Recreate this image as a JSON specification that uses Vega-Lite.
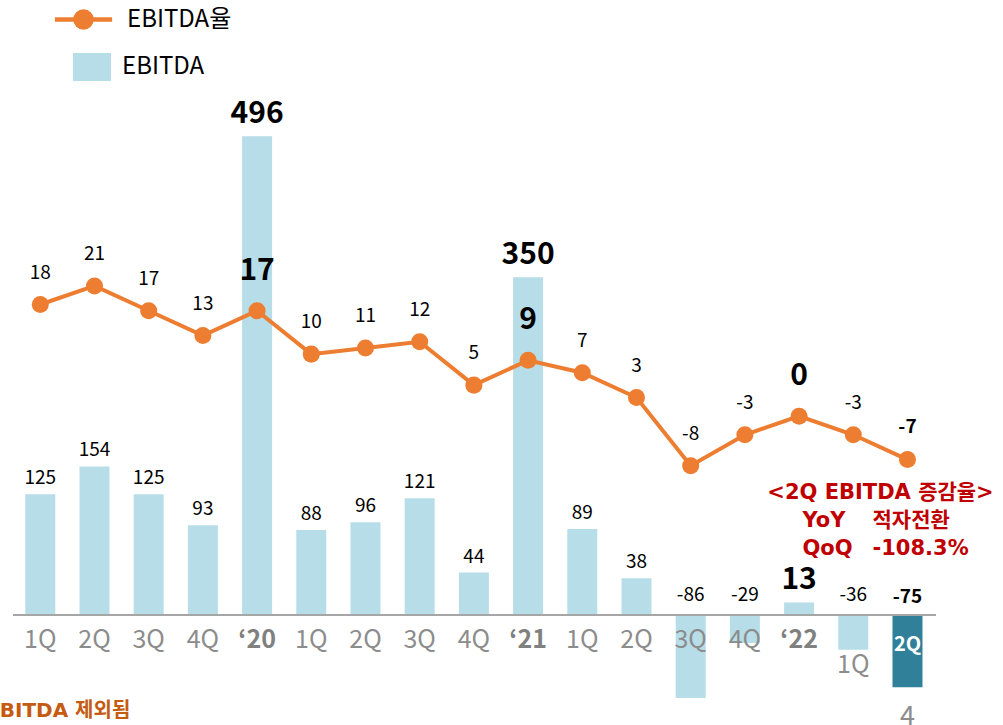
{
  "$schema": "https://vega.github.io/schema/vega-lite/v6.json",
  "width": 1003,
  "height": 725,
  "autosize": {"type": "none"},
  "padding": 0,
  "background": "white",
  "config": {"view": {"stroke": null}, "font": "Noto Sans CJK KR", "text": {"font": "Noto Sans CJK KR"}},
  "data": {"values": [
    {"key": "20-1Q", "label": "1Q", "kind": "quarter", "ebitda": 125, "rate": 18},
    {"key": "20-2Q", "label": "2Q", "kind": "quarter", "ebitda": 154, "rate": 21},
    {"key": "20-3Q", "label": "3Q", "kind": "quarter", "ebitda": 125, "rate": 17},
    {"key": "20-4Q", "label": "4Q", "kind": "quarter", "ebitda": 93, "rate": 13},
    {"key": "20", "label": "‘20", "kind": "year", "ebitda": 496, "rate": 17},
    {"key": "21-1Q", "label": "1Q", "kind": "quarter", "ebitda": 88, "rate": 10},
    {"key": "21-2Q", "label": "2Q", "kind": "quarter", "ebitda": 96, "rate": 11},
    {"key": "21-3Q", "label": "3Q", "kind": "quarter", "ebitda": 121, "rate": 12},
    {"key": "21-4Q", "label": "4Q", "kind": "quarter", "ebitda": 44, "rate": 5},
    {"key": "21", "label": "‘21", "kind": "year", "ebitda": 350, "rate": 9},
    {"key": "22-1Q", "label": "1Q", "kind": "quarter", "ebitda": 89, "rate": 7},
    {"key": "22-2Q", "label": "2Q", "kind": "quarter", "ebitda": 38, "rate": 3},
    {"key": "22-3Q", "label": "3Q", "kind": "quarter", "ebitda": -86, "rate": -8},
    {"key": "22-4Q", "label": "4Q", "kind": "quarter", "ebitda": -29, "rate": -3},
    {"key": "22", "label": "‘22", "kind": "year", "ebitda": 13, "rate": 0},
    {"key": "23-1Q", "label": "1Q", "kind": "quarter", "ebitda": -36, "rate": -3},
    {"key": "23-2Q", "label": "2Q", "kind": "quarter", "ebitda": -75, "rate": -7}
  ]},
  "encoding": {
    "x": {"field": "key", "type": "nominal", "sort": null, "axis": null,
          "scale": {"paddingInner": 0.4465, "paddingOuter": 0.976, "align": 0.239, "round": false}}
  },
  "resolve": {"scale": {"y": "independent"}},
  "layer": [
    {
      "layer": [
        {
          "transform": [{"filter": "datum.key != '23-2Q'"}],
          "mark": {"type": "bar"},
          "encoding": {
            "y": {"field": "ebitda", "type": "quantitative", "axis": null, "scale": {"domain": [-114.0, 637.3], "nice": false, "zero": false}},
            "y2": {"datum": 0},
            "fill": {"datum": "EBITDA", "scale": {"range": ["#b7dee8"]},
                     "legend": {"orient": "none", "legendX": 73, "legendY": 48, "title": null, "padding": 0,
                                "symbolType": "M-1,-0.737H1V0.737H-1Z", "symbolSize": 1444, "symbolStrokeWidth": 0,
                                "labelFont": "Noto Sans CJK KR", "labelFontSize": 24, "labelColor": "#000000", "labelOffset": 11}}
          }
        },
        {
          "transform": [{"filter": "datum.key == '23-2Q'"}],
          "mark": {"type": "bar", "color": "#31809a"},
          "encoding": {
            "y": {"field": "ebitda", "type": "quantitative", "axis": null, "scale": {"domain": [-114.0, 637.3], "nice": false, "zero": false}},
            "y2": {"datum": 0}
          }
        },
        {
          "mark": {"type": "rule", "color": "#a6a6a6", "strokeWidth": 2, "xOffset": -27, "x2Offset": 28},
          "encoding": {
            "x": {"datum": "20-1Q"},
            "x2": {"datum": "23-2Q"},
            "y": {"datum": 0, "type": "quantitative"}
          }
        },
        {
          "transform": [{"filter": "datum.kind == 'quarter' && datum.ebitda > 0"}],
          "mark": {"type": "text", "fontSize": 19, "color": "#000000", "baseline": "middle", "dy": -16},
          "encoding": {"y": {"field": "ebitda", "type": "quantitative"}, "text": {"field": "ebitda"}}
        },
        {
          "transform": [{"filter": "datum.kind == 'quarter' && datum.ebitda < 0 && datum.key != '23-2Q'"}],
          "mark": {"type": "text", "fontSize": 19, "color": "#000000", "baseline": "middle", "dy": -20},
          "encoding": {"y": {"datum": 0, "type": "quantitative"}, "text": {"field": "ebitda"}}
        },
        {
          "transform": [{"filter": "datum.kind == 'year'"}],
          "mark": {"type": "text", "fontSize": 30, "fontWeight": "bold", "color": "#000000", "baseline": "middle", "dy": -22},
          "encoding": {"y": {"field": "ebitda", "type": "quantitative"}, "text": {"field": "ebitda"}}
        },
        {
          "transform": [{"filter": "datum.key == '23-2Q'"}],
          "mark": {"type": "text", "fontSize": 19, "fontWeight": "bold", "color": "#000000", "baseline": "middle", "dy": -18},
          "encoding": {"y": {"datum": 0, "type": "quantitative"}, "text": {"field": "ebitda"}}
        },
        {
          "transform": [{"filter": "datum.kind == 'quarter' && datum.key != '23-1Q' && datum.key != '23-2Q'"}],
          "mark": {"type": "text", "fontSize": 25, "color": "#8c8c8c", "baseline": "middle"},
          "encoding": {"y": {"datum": -25.9, "type": "quantitative"}, "text": {"field": "label"}}
        },
        {
          "transform": [{"filter": "datum.kind == 'year'"}],
          "mark": {"type": "text", "fontSize": 25, "fontWeight": "bold", "color": "#808080", "baseline": "middle"},
          "encoding": {"y": {"datum": -25.9, "type": "quantitative"}, "text": {"field": "label"}}
        },
        {
          "transform": [{"filter": "datum.key == '23-1Q'"}],
          "mark": {"type": "text", "fontSize": 25, "color": "#8c8c8c", "baseline": "middle"},
          "encoding": {"y": {"datum": -51.8, "type": "quantitative"}, "text": {"field": "label"}}
        },
        {
          "transform": [{"filter": "datum.key == '23-2Q'"}],
          "mark": {"type": "text", "fontSize": 20, "fontWeight": "bold", "color": "#ffffff", "baseline": "middle"},
          "encoding": {"y": {"datum": -31.1, "type": "quantitative"}, "text": {"field": "label"}}
        },
        {
          "transform": [{"filter": "datum.key == '23-2Q'"}],
          "mark": {"type": "text", "font": "DejaVu Sans, Noto Sans CJK KR", "fontSize": 21, "fontWeight": "bold", "color": "#c00000", "baseline": "middle", "align": "center", "dx": -27},
          "encoding": {"y": {"datum": 126.4, "type": "quantitative"}, "text": {"value": "<2Q EBITDA 증감율>"}}
        },
        {
          "transform": [{"filter": "datum.key == '23-2Q'"}],
          "mark": {"type": "text", "font": "DejaVu Sans, Noto Sans CJK KR", "fontSize": 21, "fontWeight": "bold", "color": "#c00000", "baseline": "middle", "align": "left", "dx": -105, "lineHeight": 28},
          "encoding": {"y": {"datum": 97.4, "type": "quantitative"}, "text": {"value": ["YoY", "QoQ"]}}
        },
        {
          "transform": [{"filter": "datum.key == '23-2Q'"}],
          "mark": {"type": "text", "font": "DejaVu Sans, Noto Sans CJK KR", "fontSize": 21, "fontWeight": "bold", "color": "#c00000", "baseline": "middle", "align": "left", "dx": -35, "lineHeight": 28},
          "encoding": {"y": {"datum": 97.4, "type": "quantitative"}, "text": {"value": ["적자전환", "-108.3%"]}}
        },
        {
          "transform": [{"filter": "datum.key == '23-2Q'"}],
          "mark": {"type": "text", "fontSize": 27, "color": "#8c8c8c", "baseline": "middle"},
          "encoding": {"y": {"datum": -106, "type": "quantitative"}, "text": {"value": "4"}}
        },
        {
          "transform": [{"filter": "datum.key == '20-1Q'"}],
          "mark": {"type": "text", "font": "DejaVu Sans, Noto Sans CJK KR", "fontSize": 20, "fontWeight": "bold", "color": "#c55a11", "baseline": "middle", "align": "right", "dx": 90},
          "encoding": {"y": {"datum": -99.5, "type": "quantitative"}, "text": {"value": "EBITDA 제외됨"}}
        }
      ]
    },
    {
      "layer": [
        {
          "mark": {"type": "line", "strokeWidth": 4},
          "encoding": {
            "y": {"field": "rate", "type": "quantitative", "axis": null, "scale": {"domain": [-49.8, 67.1], "nice": false, "zero": false}},
            "stroke": {"datum": "EBITDA율", "scale": {"range": ["#ed7d31"]},
                       "legend": {"orient": "none", "legendX": 61, "legendY": -3, "title": null, "padding": 0,
                                  "symbolType": "M-1.43,0H1.43M-0.4,0A0.4,0.4,0,1,0,0.4,0A0.4,0.4,0,1,0,-0.4,0Z",
                                  "symbolSize": 1600, "symbolStrokeWidth": 4.5,
                                  "labelFont": "Noto Sans CJK KR", "labelFontSize": 24, "labelColor": "#000000", "labelOffset": 21,
                                  "encode": {"symbols": {"update": {"fill": {"value": "#ed7d31"}, "stroke": {"value": "#ed7d31"}, "strokeWidth": {"value": 4.5}}}}}}
          }
        },
        {
          "mark": {"type": "point", "filled": true, "size": 290, "color": "#ed7d31", "opacity": 1},
          "encoding": {"y": {"field": "rate", "type": "quantitative"}}
        },
        {
          "transform": [{"filter": "datum.kind == 'quarter' && datum.key != '23-2Q'"}],
          "mark": {"type": "text", "fontSize": 19, "color": "#000000", "baseline": "middle", "dy": -32},
          "encoding": {"y": {"field": "rate", "type": "quantitative"}, "text": {"field": "rate"}}
        },
        {
          "transform": [{"filter": "datum.kind == 'year'"}],
          "mark": {"type": "text", "fontSize": 30, "fontWeight": "bold", "color": "#000000", "baseline": "middle", "dy": -40},
          "encoding": {"y": {"field": "rate", "type": "quantitative"}, "text": {"field": "rate"}}
        },
        {
          "transform": [{"filter": "datum.key == '23-2Q'"}],
          "mark": {"type": "text", "fontSize": 19, "fontWeight": "bold", "color": "#000000", "baseline": "middle", "dy": -33},
          "encoding": {"y": {"field": "rate", "type": "quantitative"}, "text": {"field": "rate"}}
        }
      ]
    }
  ]
}
